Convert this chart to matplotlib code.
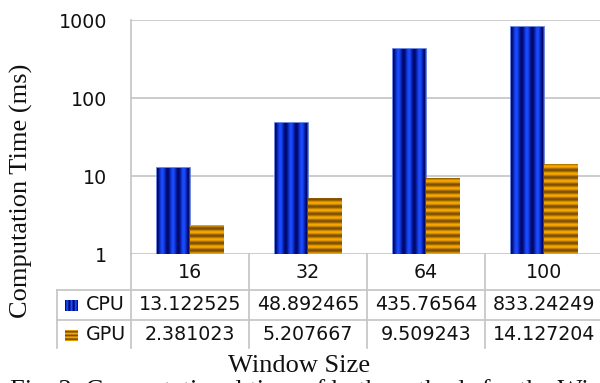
import numpy as np
import matplotlib
matplotlib.use("Agg")
import matplotlib.pyplot as plt
from matplotlib.lines import Line2D
from matplotlib.transforms import blended_transform_factory

# ---- data ----
window_sizes = ["16", "32", "64", "100"]
cpu_times = [13.122525, 48.892465, 435.76564, 833.24249]
gpu_times = [2.381023, 5.207667, 9.509243, 14.127204]
series_names = ["CPU", "GPU"]
ytick_values = [1, 10, 100, 1000]
ytick_labels = ["1", "10", "100", "1000"]

W, H = 600, 383
fig = plt.figure(figsize=(6, 3.83), dpi=100)
fig.patch.set_facecolor("white")

def fx(px):
    return px / W

def fy(py):  # py measured from top
    return (H - py) / H

ax = fig.add_axes([fx(131), fy(254), 472 / W, 234 / H])
x = np.arange(len(window_sizes))
bw = 0.285
cpu_bars = ax.bar(x - bw / 2, cpu_times, bw, color="#1040f0",
                  edgecolor="#7088d8", linewidth=0.6, zorder=3)
gpu_bars = ax.bar(x + bw / 2, gpu_times, bw, color="#f0a000",
                  linewidth=0, zorder=3)
ax.set_yscale("log")
ax.set_ylim(1, 1000)
ax.set_xlim(-0.5, len(window_sizes) - 0.5)
ax.yaxis.set_minor_locator(matplotlib.ticker.NullLocator())
ax.set_yticks(ytick_values, labels=ytick_labels)
ax.set_xticks([])
ax.tick_params(axis="y", length=0, pad=17, labelsize=13.7, labelcolor="#111111")
for s in ["top", "right", "bottom"]:
    ax.spines[s].set_visible(False)
ax.spines["left"].set_color("#c4c4c4")
ax.spines["left"].set_linewidth(1.2)
ax.yaxis.grid(True, color="#c4c4c4", linewidth=1.2)
ax.set_axisbelow(True)
for lab in ax.get_yticklabels():
    lab.set_fontfamily("DejaVu Sans")

# ---- textures ----
blue_hi = np.array([25, 75, 255]) / 255
blue_lo = np.array([0, 8, 110]) / 255
org_hi = np.array([248, 168, 0]) / 255
org_lo = np.array([125, 80, 0]) / 255

def cpu_tex(w, h, n=3):
    t = (np.arange(w) + 0.5) / w
    v = 0.5 - 0.5 * np.cos(2 * np.pi * n * t)
    row = blue_lo[None, :] * (1 - v[:, None]) + blue_hi[None, :] * v[:, None]
    return np.repeat(row[None, :, :], h, axis=0)

def gpu_tex(w, h, period=7.3):
    t = np.arange(h)[::-1] + 0.5
    v = 0.5 + 0.5 * np.cos(2 * np.pi * t / period)
    col = org_lo[None, :] * (1 - v[:, None]) + org_hi[None, :] * v[:, None]
    return np.repeat(col[:, None, :], w, axis=1)

fig.canvas.draw()
ax_bb = ax.get_window_extent()
for bars, fn in [(cpu_bars, cpu_tex), (gpu_bars, gpu_tex)]:
    for b in bars:
        bb = b.get_window_extent()
        x0, x1 = int(round(bb.x0)), int(round(bb.x1))
        y0 = int(round(max(bb.y0, ax_bb.y0)))
        y1 = int(round(min(bb.y1, ax_bb.y1)))
        if fn is cpu_tex:
            x0 += 1; x1 -= 1; y1 -= 1
        arr = fn(max(x1 - x0, 1), max(y1 - y0, 1))
        fig.figimage(arr, xo=x0, yo=y0, origin="upper", zorder=2)

# ---- data table ----
grid_c = "#c4c4c4"
trans = blended_transform_factory(ax.transData, fig.transFigure)
table_top, row1, row2, table_bot = 254, 290, 320, 348
for b in np.arange(len(window_sizes)) + 0.5:
    ax.add_line(Line2D([b, b], [fy(table_top), fy(table_bot)], transform=trans,
                       color=grid_c, lw=1.2, clip_on=False))
ax.add_line(Line2D([-0.5, -0.5], [fy(table_top), fy(table_bot)], transform=trans,
                   color=grid_c, lw=1.2, clip_on=False))
for yy in [row1, row2]:
    fig.add_artist(Line2D([fx(57), fx(600)], [fy(yy), fy(yy)], color=grid_c, lw=1.2))
fig.add_artist(Line2D([fx(57), fx(57)], [fy(row1), fy(table_bot)], color=grid_c, lw=1.2))

row_centers = [272, 305, 335]
for i, lab in enumerate(window_sizes):
    ax.text(i, fy(row_centers[0]), lab, transform=trans, ha="center", va="center",
            fontsize=13.7, family="DejaVu Sans", color="#111111")
for r, vals in enumerate([cpu_times, gpu_times]):
    for i, v in enumerate(vals):
        ax.text(i, fy(row_centers[r + 1]), str(v), transform=trans, ha="center",
                va="center", fontsize=13.7, family="DejaVu Sans", color="#111111")
    fig.text(fx(86), fy(row_centers[r + 1]), series_names[r], ha="left", va="center",
             fontsize=13.7, family="DejaVu Sans", color="#111111")

# legend keys
key_w, key_h = 13, 11
for r, fn in enumerate([lambda w, h: cpu_tex(w, h, n=3), lambda w, h: gpu_tex(w, h, period=3.7)]):
    cy = row_centers[r + 1]
    fig.figimage(fn(key_w, key_h), xo=65, yo=int(H - cy - key_h / 2), origin="upper", zorder=2)

# ---- axis titles ----
fig.text(fx(21.5), fy(191), "Computation Time (ms)", rotation=90, ha="center",
         va="center", fontsize=19, family="Liberation Serif", color="#111111")
fig.text(fx(299), fy(366), "Window Size", ha="center", va="center",
         fontsize=19, family="Liberation Serif", color="#111111")
fig.text(fx(10), fy(379), "Fig. 3: Computational time of both methods for the Wiener-Hill",
         ha="left", va="top", fontsize=19, family="Liberation Serif", color="#111111")

fig.savefig("out.png", dpi=100)
